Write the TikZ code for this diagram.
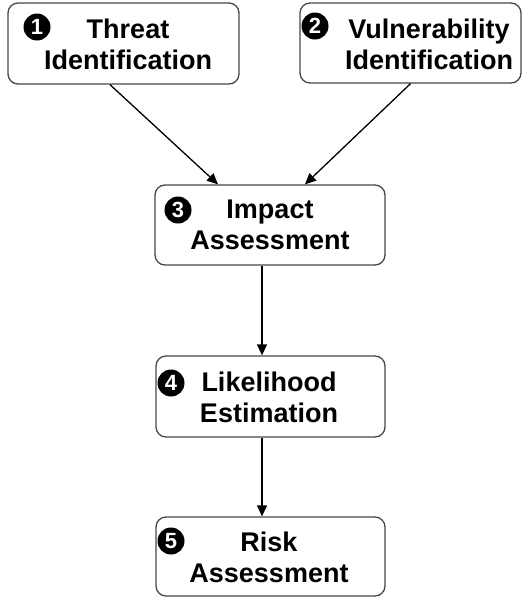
\documentclass[tikz,border=0pt]{standalone}
\usepackage{fontspec}
\setmainfont{Liberation Sans}
\usetikzlibrary{arrows.meta}
\begin{document}
\begin{tikzpicture}[x=1pt,y=-1pt,
  stepbox/.style={draw=black!72, line width=1.3pt, rounded corners=10pt,
    fill=white, inner sep=0pt},
  label/.style={align=center, font=\bfseries\fontsize{27}{31}\selectfont,
    inner sep=0pt},
  badge/.style={circle, fill=black, text=white, inner sep=0pt,
    minimum size=27pt, font=\bfseries\fontsize{22}{22}\selectfont},
  flow/.style={-{Triangle[length=11pt,width=10pt]}, line width=1.3pt, black}]
\useasboundingbox (0,0) rectangle (525,598);

% boxes
\node[stepbox, minimum width=231pt, minimum height=81pt] (b1) at (123.5,43.5) {};
\node[stepbox, minimum width=221pt, minimum height=80pt] (b2) at (410.5,43) {};
\node[stepbox, minimum width=230pt, minimum height=80pt] (b3) at (270,225) {};
\node[stepbox, minimum width=229pt, minimum height=81pt] (b4) at (270.5,396.5) {};
\node[stepbox, minimum width=229pt, minimum height=79pt] (b5) at (270.5,556.5) {};

% labels
\node[label] (t1) at (128,44) {Threat\\Identification};
\node[label] (t2) at (429,44) {Vulnerability\\Identification};
\node[label] (t3) at (270,225) {Impact\\Assessment};
\node[label] (t4) at (269,397) {Likelihood\\Estimation};
\node[label] (t5) at (269,557) {Risk\\Assessment};

% numbered badges
\node[badge] (n1) at (37,27) {1};
\node[badge] (n2) at (315,26) {2};
\node[badge] (n3) at (178,210) {3};
\node[badge] (n4) at (171,383) {4};
\node[badge] (n5) at (171,541) {5};

% connectors
\draw[flow] ([xshift=-13.5pt]b1.south) -- ([xshift=-52pt]b3.north);
\draw[flow] (b2.south) -- ([xshift=35pt]b3.north);
\draw[flow] ([xshift=-8pt]b3.south) -- ([xshift=-8.5pt]b4.north);
\draw[flow] ([xshift=-8.5pt]b4.south) -- ([xshift=-8.5pt]b5.north);
\end{tikzpicture}
\end{document}
